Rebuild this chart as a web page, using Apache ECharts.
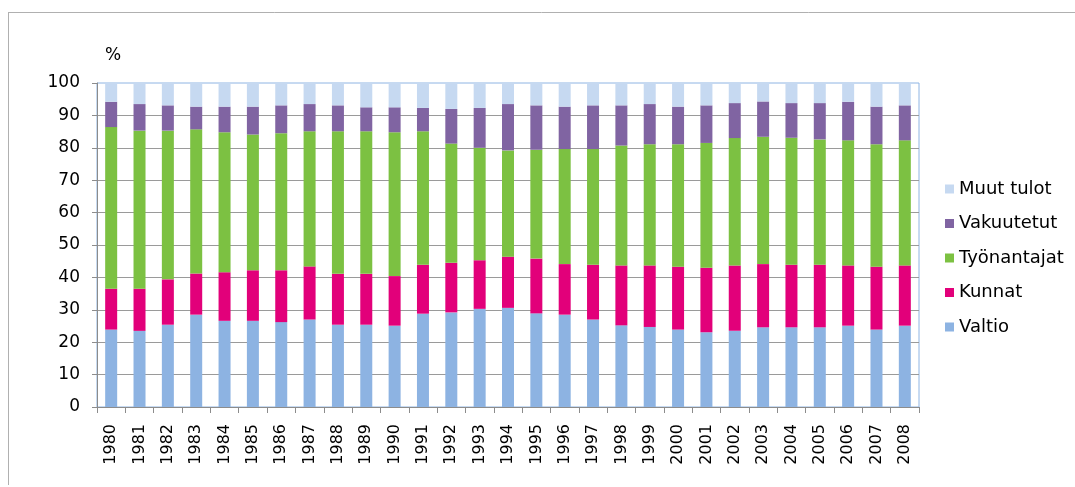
<!DOCTYPE html>
<html>
<head>
<meta charset="utf-8">
<script src="https://cdn.jsdelivr.net/npm/echarts@6/dist/echarts.min.js"></script>
<style>
  html, body { margin: 0; padding: 0; background: #fff; }
  #chart { width: 1075px; height: 487px; }
</style>
</head>
<body>
<div id="chart"></div>
<script>
// Years on the category axis
const years = ['1980','1981','1982','1983','1984','1985','1986','1987','1988','1989',
  '1990','1991','1992','1993','1994','1995','1996','1997','1998','1999',
  '2000','2001','2002','2003','2004','2005','2006','2007','2008'];

// Shares (%), bottom to top of each bar
const valtio      = [23.9,23.5,25.4,28.5,26.6,26.6,26.2,27.0,25.4,25.4,25.1,28.8,29.2,30.3,30.6,28.9,28.5,27.0,25.2,24.7,23.9,23.1,23.5,24.6,24.6,24.6,25.1,23.9,25.1];
const kunnat      = [12.6,13.0,14.0,12.7,15.0,15.6,16.0,16.4,15.7,15.7,15.3,15.1,15.3,15.0,15.8,16.9,15.6,16.9,18.5,19.0,19.4,19.9,20.2,19.5,19.3,19.3,18.6,19.4,18.6];
const tyonantajat = [49.9,48.8,45.9,44.5,43.2,41.9,42.3,41.7,44.0,44.0,44.4,41.2,36.8,34.7,32.8,33.6,35.5,35.7,37.0,37.4,37.8,38.5,39.3,39.3,39.2,38.7,38.6,37.8,38.6];
const vakuutetut  = [7.8,8.2,7.8,7.0,7.9,8.6,8.6,8.4,8.0,7.4,7.7,7.2,10.7,12.3,14.3,13.7,13.1,13.5,12.4,12.4,11.6,11.6,10.8,10.9,10.7,11.2,11.9,11.6,10.8];
const muutTulot   = [5.8,6.5,6.9,7.3,7.3,7.3,6.9,6.5,6.9,7.5,7.5,7.7,8.0,7.7,6.5,6.9,7.3,6.9,6.9,6.5,7.3,6.9,6.2,5.7,6.2,6.2,5.8,7.3,6.9];

const FONT = 'DejaVu Sans';

const seriesDefs = [
  { name: 'Valtio',      data: valtio,      color: '#8db3e2' },
  { name: 'Kunnat',      data: kunnat,      color: '#e2007a' },
  { name: 'Työnantajat', data: tyonantajat, color: '#7cc142' },
  { name: 'Vakuutetut',  data: vakuutetut,  color: '#8064a2' },
  { name: 'Muut tulot',  data: muutTulot,   color: '#c6d9f1' }
];

const chart = echarts.init(document.getElementById('chart'), null, { renderer: 'canvas' });

chart.setOption({
  animation: false,
  backgroundColor: '#fff',
  textStyle: { fontFamily: FONT },
  grid: {
    left: 97, right: 156, top: 83, bottom: 80,
    show: true, borderColor: '#8eb4e3', borderWidth: 1
  },
  legend: {
    orient: 'vertical',
    left: 940, top: 175,
    itemWidth: 9, itemHeight: 9, itemGap: 16.5,
    icon: 'rect',
    data: ['Muut tulot', 'Vakuutetut', 'Työnantajat', 'Kunnat', 'Valtio'],
    textStyle: { fontFamily: FONT, fontSize: 18, lineHeight: 18, color: '#000' }
  },
  xAxis: {
    type: 'category',
    data: years,
    boundaryGap: true,
    axisLine: { lineStyle: { color: '#8c8c8c' } },
    axisTick: { show: true, length: 6, lineStyle: { color: '#8c8c8c' } },
    axisLabel: { rotate: 90, interval: 0, margin: 17, fontSize: 16, color: '#000', fontFamily: FONT }
  },
  yAxis: {
    type: 'value',
    min: 0, max: 100, interval: 10,
    axisLine: { show: true, lineStyle: { color: '#8c8c8c' } },
    axisTick: { show: true, length: 5, lineStyle: { color: '#8c8c8c' } },
    axisLabel: { margin: 17, fontSize: 17, color: '#000', fontFamily: FONT },
    splitLine: { show: true, showMaxLine: false, lineStyle: { color: '#9a9a9a' } }
  },
  series: seriesDefs.map(s => ({
    name: s.name,
    type: 'bar',
    stack: 'total',
    barWidth: 12,
    data: s.data,
    itemStyle: { color: s.color }
  })),
  graphic: [
    { type: 'line', shape: { x1: 8, y1: 12.5, x2: 1075, y2: 12.5 }, style: { stroke: '#b0b0b0', lineWidth: 1 } },
    { type: 'line', shape: { x1: 8.5, y1: 12, x2: 8.5, y2: 485 }, style: { stroke: '#b0b0b0', lineWidth: 1 } },
    { type: 'text', left: 105, top: 47, style: { text: '%', fontSize: 17, fontFamily: FONT, fill: '#000' } }
  ]
});
</script>
</body>
</html>
